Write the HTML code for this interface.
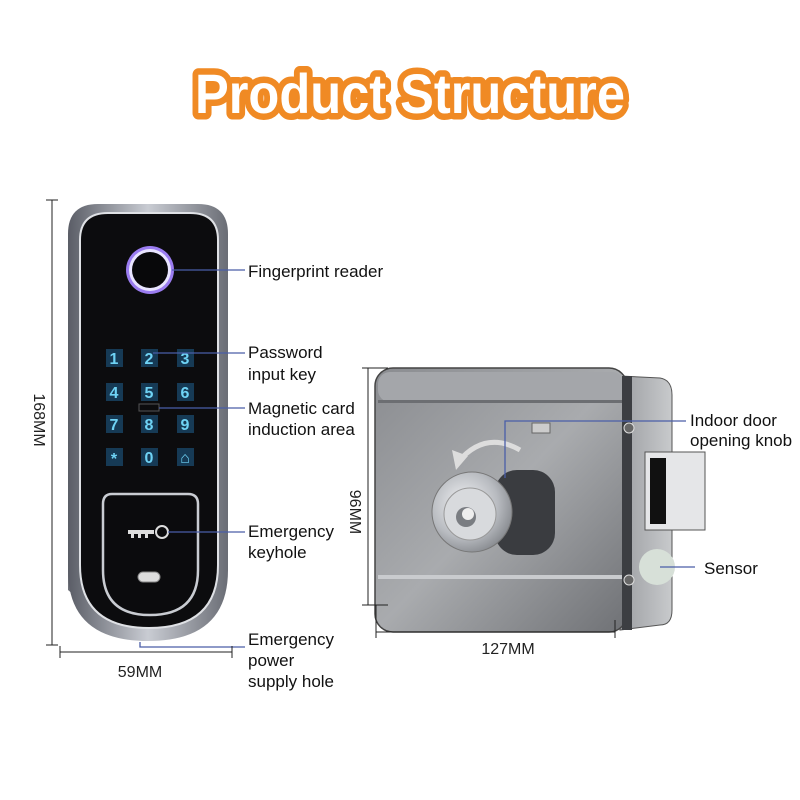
<!DOCTYPE html>
<html><head><meta charset="utf-8"><style>
html,body{margin:0;padding:0;background:#fff;width:800px;height:800px;overflow:hidden}
svg{display:block}
text{font-family:"Liberation Sans",sans-serif}
</style></head><body>
<svg width="800" height="800" viewBox="0 0 800 800" xmlns="http://www.w3.org/2000/svg">
<defs>
<linearGradient id="steel" x1="0" y1="0" x2="1" y2="1">
<stop offset="0" stop-color="#8a8c90"/><stop offset="0.5" stop-color="#a9abae"/><stop offset="1" stop-color="#6f7175"/></linearGradient>
<linearGradient id="side" x1="0" y1="0" x2="1" y2="0">
<stop offset="0" stop-color="#9c9ea2"/><stop offset="1" stop-color="#c8cacc"/></linearGradient>
<linearGradient id="frame" x1="0" y1="0" x2="1" y2="0">
<stop offset="0" stop-color="#5a5d66"/><stop offset="0.5" stop-color="#c9ccd3"/><stop offset="1" stop-color="#6a6d75"/></linearGradient>
<radialGradient id="knob" cx="0.4" cy="0.4" r="0.7">
<stop offset="0" stop-color="#f2f3f5"/><stop offset="0.6" stop-color="#b8bbc0"/><stop offset="1" stop-color="#7c7f84"/></radialGradient>
</defs>

<text x="410" y="113" text-anchor="middle" font-size="56" font-weight="bold" fill="#fff" stroke="#f08a24" stroke-width="13" stroke-linejoin="round" paint-order="stroke" textLength="430" lengthAdjust="spacingAndGlyphs">Product Structure</text>

<!-- Left lock -->
<path d="M68 360 L80 350 L80 600 L68 590 Z" fill="#6d7078"/>
<path d="M98 204 L198 204 Q228 204 228 234 L228 570 Q228 641 148 641 Q68 641 68 570 L68 234 Q68 204 98 204 Z" fill="url(#frame)"/>
<path d="M108 213 L190 213 Q218 213 218 240 L218 565 Q218 628 149 628 Q80 628 80 565 L80 240 Q80 213 108 213 Z" fill="#0c0c0e" stroke="#dfe1e5" stroke-width="2"/>
<circle cx="150" cy="270" r="24" fill="#9a7cf0"/>
<circle cx="150" cy="270" r="21" fill="#e8e4ff"/>
<circle cx="150" cy="270" r="18" fill="#08080a"/>
<g font-size="16" font-weight="bold" fill="#6fd3f5" text-anchor="middle">
<rect x="106" y="349" width="17" height="18" fill="#163a55"/><text x="114" y="364">1</text>
<rect x="141" y="349" width="17" height="18" fill="#163a55"/><text x="149" y="364">2</text>
<rect x="177" y="349" width="17" height="18" fill="#163a55"/><text x="185" y="364">3</text>
<rect x="106" y="383" width="17" height="18" fill="#163a55"/><text x="114" y="398">4</text>
<rect x="141" y="383" width="17" height="18" fill="#163a55"/><text x="149" y="398">5</text>
<rect x="177" y="383" width="17" height="18" fill="#163a55"/><text x="185" y="398">6</text>
<rect x="106" y="415" width="17" height="18" fill="#163a55"/><text x="114" y="430">7</text>
<rect x="141" y="415" width="17" height="18" fill="#163a55"/><text x="149" y="430">8</text>
<rect x="177" y="415" width="17" height="18" fill="#163a55"/><text x="185" y="430">9</text>
<rect x="106" y="448" width="17" height="18" fill="#163a55"/><text x="114" y="464">*</text>
<rect x="141" y="448" width="17" height="18" fill="#163a55"/><text x="149" y="463">0</text>
<rect x="177" y="448" width="17" height="18" fill="#163a55"/><text x="185" y="463">⌂</text>
</g>
<rect x="139" y="404" width="20" height="7" fill="none" stroke="#555" stroke-width="1"/>
<path d="M112 494 L188 494 Q198 494 198 504 L198 570 Q198 615 150 615 Q103 615 103 570 L103 504 Q103 494 112 494 Z" fill="#0b0b0d" stroke="#c9ccd2" stroke-width="2.5"/>
<rect x="128" y="530" width="26" height="4" fill="#ddd"/>
<rect x="131" y="533" width="3" height="5" fill="#ddd"/><rect x="138" y="533" width="3" height="5" fill="#ddd"/><rect x="145" y="533" width="3" height="5" fill="#ddd"/>
<circle cx="162" cy="532" r="6" fill="none" stroke="#ddd" stroke-width="2"/>
<rect x="138" y="572" width="22" height="10" rx="5" fill="#ddd" stroke="#888"/>

<g stroke="#4a5ea8" stroke-width="1.3" fill="none">
<line x1="172" y1="270" x2="245" y2="270"/>
<line x1="153" y1="353" x2="245" y2="353"/>
<line x1="159" y1="408" x2="245" y2="408"/>
<line x1="168" y1="532" x2="245" y2="532"/>
<polyline points="140,642 140,647 245,647"/>
</g>
<g stroke="#222" stroke-width="1" fill="none">
<line x1="52" y1="200" x2="52" y2="645"/>
<line x1="46" y1="200" x2="58" y2="200"/><line x1="46" y1="645" x2="58" y2="645"/>
<line x1="60" y1="652" x2="232" y2="652"/>
<line x1="60" y1="646" x2="60" y2="658"/><line x1="232" y1="646" x2="232" y2="658"/>
</g>
<text x="0" y="0" font-size="16" fill="#222" text-anchor="middle" transform="translate(34 420) rotate(90)">168MM</text>
<text x="140" y="677" font-size="16" fill="#222" text-anchor="middle">59MM</text>

<g font-size="17" fill="#111">
<text x="248" y="277">Fingerprint reader</text>
<text x="248" y="358">Password</text><text x="248" y="380">input key</text>
<text x="248" y="414">Magnetic card</text><text x="248" y="435">induction area</text>
<text x="248" y="537">Emergency</text><text x="248" y="558">keyhole</text>
<text x="248" y="645">Emergency</text><text x="248" y="666">power</text><text x="248" y="687">supply hole</text>
</g>

<!-- Right lock -->
<path d="M620 376 L660 378 Q672 380 672 395 L672 610 Q672 625 660 625 L620 630 Z" fill="url(#side)" stroke="#555"/>
<rect x="375" y="368" width="252" height="264" rx="18" fill="url(#steel)" stroke="#444" stroke-width="1.5"/>
<rect x="378" y="372" width="246" height="30" rx="12" fill="#a4a6aa"/>
<rect x="378" y="400" width="246" height="3" fill="#6c6e72"/>
<rect x="378" y="575" width="246" height="4" fill="#c9cbce"/>
<rect x="622" y="376" width="10" height="254" fill="#3c3e42"/>
<rect x="645" y="452" width="60" height="78" fill="#e5e6e8" stroke="#555"/>
<rect x="650" y="458" width="16" height="66" fill="#111"/>
<circle cx="657" cy="567" r="18" fill="#d7e0d8"/>
<circle cx="629" cy="428" r="5" fill="#666" stroke="#ddd"/>
<circle cx="629" cy="580" r="5" fill="#666" stroke="#ddd"/>
<rect x="532" y="423" width="18" height="10" fill="#ccc" stroke="#666"/>
<path d="M458 462 Q485 430 520 450" fill="none" stroke="#ddd" stroke-width="5"/>
<path d="M452 450 L456 470 L468 456 Z" fill="#ddd"/>
<rect x="495" y="470" width="60" height="85" rx="22" fill="#3a3c40"/>
<circle cx="472" cy="512" r="40" fill="url(#knob)" stroke="#777"/>
<circle cx="470" cy="514" r="26" fill="#d8dadd" stroke="#999"/>
<circle cx="466" cy="517" r="10" fill="#7a7d82"/>
<circle cx="468" cy="514" r="6" fill="#eee"/>

<g stroke="#4a5ea8" stroke-width="1.3" fill="none">
<polyline points="505,478 505,421 686,421"/>
<line x1="660" y1="567" x2="695" y2="567"/>
</g>
<g stroke="#222" stroke-width="1" fill="none">
<line x1="368" y1="368" x2="368" y2="605"/>
<line x1="362" y1="368" x2="388" y2="368"/><line x1="362" y1="605" x2="388" y2="605"/>
<line x1="376" y1="632" x2="615" y2="632"/>
<line x1="376" y1="605" x2="376" y2="638"/><line x1="615" y1="620" x2="615" y2="638"/>
</g>
<text x="0" y="0" font-size="16" fill="#222" text-anchor="middle" transform="translate(350 512) rotate(90)">96MM</text>
<text x="508" y="654" font-size="16" fill="#222" text-anchor="middle">127MM</text>
<g font-size="17" fill="#111">
<text x="690" y="426">Indoor door</text><text x="690" y="446">opening knob</text>
<text x="704" y="574">Sensor</text>
</g>
</svg>
</body></html>
